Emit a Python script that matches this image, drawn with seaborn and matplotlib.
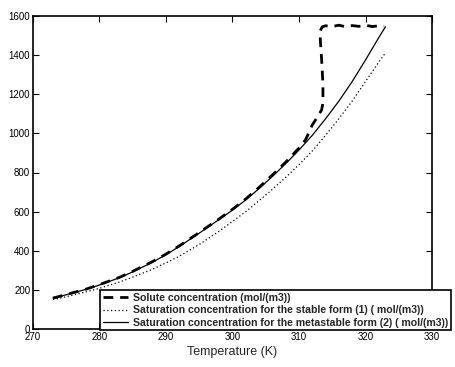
import matplotlib
matplotlib.use("Agg")
import matplotlib.pyplot as plt
import seaborn as sns
import pandas as pd

sns.set_theme(style="ticks")
plt.rcParams["font.family"] = ["Liberation Sans", "DejaVu Sans"]

# Saturation curves
T_sat = [273, 275, 278, 280, 283, 285, 288, 290, 292, 295, 298, 300, 302,
         304, 306, 308, 310, 312, 314, 316, 318, 320, 322, 323]
c_meta = [158, 175, 203, 225, 262, 292, 342, 380, 422, 490, 560, 608, 660,
          718, 780, 845, 915, 990, 1075, 1165, 1265, 1375, 1490, 1545]
c_stable = [150, 165, 190, 208, 240, 265, 306, 338, 372, 432, 500, 550, 600,
            656, 714, 775, 840, 910, 990, 1075, 1165, 1265, 1365, 1411]

# Solute concentration: follows the metastable curve, then jumps up
T_sol = [273, 275, 278, 280, 283, 285, 288, 290, 292, 295, 298, 300, 302,
         304, 306, 308, 310, 311, 312, 312.8, 313.4, 313.6, 313.6, 313.4,
         313.2, 313.2, 313.5, 314, 315, 316, 317, 318, 319, 320, 321, 322,
         322.8]
c_sol = [158, 176, 204, 227, 264, 295, 345, 383, 425, 493, 563, 612, 665,
         724, 787, 853, 925, 968, 1043, 1085, 1120, 1155, 1250, 1380,
         1480, 1525, 1545, 1550, 1546, 1553, 1545, 1551, 1547, 1553, 1546,
         1550, 1548]

lbl_sol = "Solute concentration (mol/(m3))"
lbl_stable = "Saturation concentration for the stable form (1) ( mol/(m3))"
lbl_meta = "Saturation concentration for the metastable form (2) ( mol/(m3))"

df_sat = pd.DataFrame({"T": T_sat, "meta": c_meta, "stable": c_stable})
df_sol = pd.DataFrame({"T": T_sol, "c": c_sol})

fig = plt.figure(figsize=(4.56, 3.67), dpi=100)
ax = fig.add_axes([33 / 456, 1 - 329 / 367, 399 / 456, 313 / 367])

sns.lineplot(data=df_sol, x="T", y="c", ax=ax, sort=False, estimator=None,
             color="black", lw=2.0, linestyle=(0, (3.5, 2.5)), label=lbl_sol)
sns.lineplot(data=df_sat, x="T", y="stable", ax=ax, color="black", lw=0.9,
             linestyle=(0, (1, 2)), label=lbl_stable)
sns.lineplot(data=df_sat, x="T", y="meta", ax=ax, color="black", lw=0.9,
             label=lbl_meta)

ax.set_xlim(270, 330)
ax.set_ylim(0, 1600)
ax.set_xticks(range(270, 331, 10))
ax.set_yticks(range(0, 1601, 200))
ax.set_xlabel("Temperature (K)", fontsize=9, labelpad=3)
ax.set_ylabel("")
ax.tick_params(direction="in", length=4, width=0.8, labelsize=7,
               top=True, right=True, pad=2, colors="black")
for s in ax.spines.values():
    s.set_linewidth(1.2)
    s.set_color("black")

leg = ax.legend(loc="lower left", bbox_to_anchor=(0.168, -0.004),
                prop={"weight": "bold", "size": 7.6}, frameon=True,
                fancybox=False, edgecolor="black", framealpha=1,
                borderpad=0.25, labelspacing=0.22, handlelength=2.4,
                handletextpad=0.5, borderaxespad=0)
leg.get_frame().set_linewidth(1.2)

fig.savefig("out.png", dpi=100)
